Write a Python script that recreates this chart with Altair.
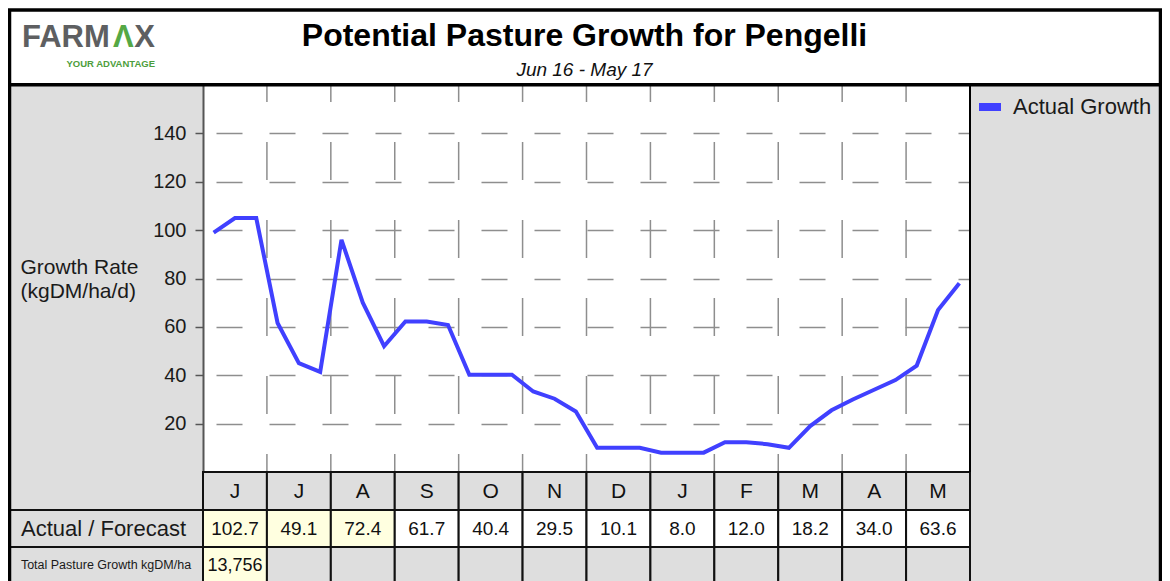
import altair as alt
import pandas as pd

# ---------------- data ----------------
months = ["J", "J", "A", "S", "O", "N", "D", "J", "F", "M", "A", "M"]
monthly_growth = [102.7, 49.1, 72.4, 61.7, 40.4, 29.5, 10.1, 8.0, 12.0, 18.2, 34.0, 63.6]
actual_month_count = 3
total_growth = "13,756"
# growth rate, three readings per month (Jun 16 - May 17)
growth = [99, 105, 105,
          61.6, 45, 41.4,
          96, 70, 52,
          62.2, 62.2, 60.8,
          40.2, 40.2, 40.2,
          33.3, 30.3, 25,
          10, 10, 10,
          8, 8, 8,
          12.3, 12.3, 11.5,
          10, 19, 25.5,
          30, 34, 38,
          44, 67, 78]
y_ticks = [20, 40, 60, 80, 100, 120, 140]
month_bounds = list(range(1, 12))
series_name = "Actual Growth"

# ---------------- tables ----------------
line_df = pd.DataFrame({
    "t": [(i + 0.5) / 3 for i in range(len(growth))],
    "growth": growth,
    "series": series_name,
})
table_df = pd.DataFrame({
    "idx": list(range(12)),
    "month": months,
    "value": [f"{v:.1f}" for v in monthly_growth],
    "start": list(range(12)),
    "end": [i + 1 for i in range(12)],
    "mid": [i + 0.5 for i in range(12)],
})
total_df = pd.DataFrame({"mid": [0.5], "total": [total_growth]})
bounds_df = pd.DataFrame({"b": month_bounds})

W, H = 767, 387
SANS = "Liberation Sans, Arial, sans-serif"
GRAY = "#dedede"
YELLOW = "#ffffe0"
LINEC = "#111111"
GRIDC = "#8e8e8e"

xs = alt.Scale(domain=[0, 12], nice=False, zero=False)
ys = alt.Scale(domain=[0, 160], nice=False, zero=False)
one = alt.Data(values=[{}])


def deco_rect(x, x2, y, y2, **kw):
    return alt.Chart(one).mark_rect(**kw).encode(
        x=alt.value(x), x2=alt.value(x2), y=alt.value(y), y2=alt.value(y2))


def deco_text(text, x, y, **kw):
    return alt.Chart(one).mark_text(text=text, **kw).encode(x=alt.value(x), y=alt.value(y))


# header white box
title_box = deco_rect(-195, 960, -77, 0, fill="white")
# row label cells
label_cells = (deco_rect(-195, 0, 425, 462, fill=GRAY, stroke=LINEC, strokeWidth=2)
               + deco_rect(-195, 0, 462, 520, fill=GRAY, stroke=LINEC, strokeWidth=2))

# vertical dashed month grid
vgrid = alt.Chart(bounds_df).mark_rule(strokeDash=[38, 40], strokeDashOffset=21,
                                       color=GRIDC, strokeWidth=1.5).encode(
    x=alt.X("b:Q", scale=xs, axis=None), y=alt.value(0), y2=alt.value(387))

base_tab = alt.Chart(table_df)
month_cells = base_tab.mark_rect(fill=GRAY, stroke=LINEC, strokeWidth=2).encode(
    x=alt.X("start:Q", scale=xs, axis=None), x2="end:Q",
    y=alt.value(387), y2=alt.value(425))
value_cells = base_tab.mark_rect(stroke=LINEC, strokeWidth=2).encode(
    x=alt.X("start:Q", scale=xs, axis=None), x2="end:Q",
    y=alt.value(425), y2=alt.value(462),
    fill=alt.condition(f"datum.idx < {actual_month_count}", alt.value(YELLOW), alt.value("white")))
total_cells = base_tab.mark_rect(stroke=LINEC, strokeWidth=2).encode(
    x=alt.X("start:Q", scale=xs, axis=None), x2="end:Q",
    y=alt.value(462), y2=alt.value(520),
    fill=alt.condition("datum.idx == 0", alt.value(YELLOW), alt.value(GRAY)))

month_text = base_tab.mark_text(font=SANS, fontSize=21, color="#111", baseline="middle").encode(
    x=alt.X("mid:Q", scale=xs, axis=None), y=alt.value(407), text="month:N")
value_text = base_tab.mark_text(font=SANS, fontSize=19, color="#111", baseline="middle").encode(
    x=alt.X("mid:Q", scale=xs, axis=None), y=alt.value(444), text="value:N")
total_text = alt.Chart(total_df).mark_text(font=SANS, fontSize=18, color="#111", baseline="middle").encode(
    x=alt.X("mid:Q", scale=xs, axis=None), y=alt.value(481), text="total:N")

line = alt.Chart(line_df).mark_line(strokeWidth=4).encode(
    x=alt.X("t:Q", scale=xs, axis=None),
    y=alt.Y("growth:Q", scale=ys, axis=alt.Axis(
        values=y_ticks, grid=True, gridDash=[26, 27], gridDashOffset=40,
        gridColor=GRIDC, gridWidth=1.5,
        tickSize=8, tickColor="#555", tickWidth=1.5,
        domainColor="#555", domainWidth=2,
        labelFont=SANS, labelFontSize=20, labelColor="#1a1a1a", labelPadding=9,
        title=["Growth Rate", "(kgDM/ha/d)"], titleAngle=0, titleAlign="left",
        titleBaseline="alphabetic", titleX=-183, titleY=188, titleFont=SANS,
        titleFontSize=21, titleFontWeight="normal", titleLineHeight=24, titleColor="#1a1a1a")),
    color=alt.Color("series:N", scale=alt.Scale(domain=[series_name], range=["#4040ff"]),
                    legend=alt.Legend(orient="none", legendX=772, legendY=7, title=None,
                                      symbolType="stroke", symbolSize=484, symbolStrokeWidth=8,
                                      labelFont=SANS, labelFontSize=22, labelColor="#1a1a1a",
                                      labelOffset=8, labelLimit=300, padding=0)),
)

plot_right = deco_rect(766, 768, 0, 387, fill="black")
title_rule = deco_rect(-195, 960, -2, 1.5, fill="black")
outer = deco_rect(-193.5, 957.5, -75, 520, stroke="black", strokeWidth=3.5, filled=False)

title = deco_text("Potential Pasture Growth for Pengelli", 381.5, -39, font=SANS, fontSize=32,
                  fontWeight="bold", color="#000", align="center", baseline="alphabetic")
subtitle = deco_text("Jun 16 - May 17", 381.5, -9, font=SANS, fontSize=19, fontStyle="italic",
                     color="#111", align="center", baseline="alphabetic")
logo_farm = deco_text("FARM", -181, -38, font=SANS, fontSize=31, fontWeight="bold",
                      color="#5e5f61", align="left", baseline="alphabetic")
logo_a = deco_text("Λ", -90, -38, font=SANS, fontSize=31, fontWeight="bold",
                   color="#55a845", align="left", baseline="alphabetic")
logo_x = deco_text("X", -48, -38, font=SANS, fontSize=31, fontWeight="bold",
                   color="#5e5f61", align="right", baseline="alphabetic")
logo_tag = deco_text("YOUR ADVANTAGE", -48, -18, font=SANS, fontSize=9.5, fontWeight="bold",
                     color="#4d9e3c", align="right", baseline="alphabetic")
row1 = deco_text("Actual / Forecast", -99.5, 444, font=SANS, fontSize=22, color="#1a1a1a",
                 align="center", baseline="middle")
row2 = deco_text("Total Pasture Growth kgDM/ha", -97, 480, font=SANS, fontSize=12.5, color="#1a1a1a",
                 align="center", baseline="middle")

chart = alt.layer(
    title_box, label_cells, vgrid, month_cells, value_cells, total_cells,
    line, month_text, value_text, total_text,
    plot_right, title_rule, outer,
    title, subtitle, logo_farm, logo_a, logo_x, logo_tag, row1, row2,
).properties(
    width=W, height=H,
    autosize=alt.AutoSizeParams(type="none"),
    padding={"left": 195, "top": 77, "right": 192, "bottom": 109},
    background=GRAY,
).configure_view(strokeWidth=0, fill="white")

chart.save("out.html", embed_options={"renderer": "svg", "actions": False})
